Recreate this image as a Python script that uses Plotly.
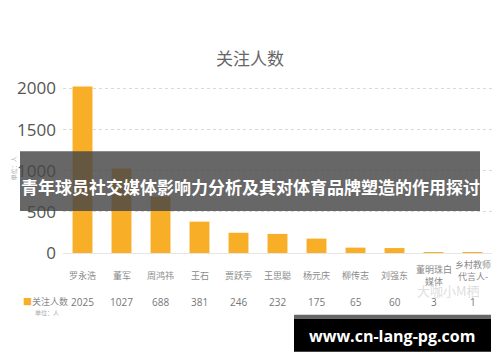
import plotly.graph_objects as go

categories = ["罗永浩", "董军", "周鸿祎", "王石", "贾跃亭", "王思聪", "杨元庆", "柳传志", "刘强东", "董明珠白<br>媒体", "乡村教师<br>代言人-<br> "]
values = [2025, 1027, 688, 381, 246, 232, 175, 65, 60, 3, 1]
y_ticks = [0, 500, 1000, 1500, 2000]
series_name = "关注人数"
unit_text = "单位：人"
chart_title = "关注人数"
overlay_title = "青年球员社交媒体影响力分析及其对体育品牌塑造的作用探讨"
site_text = "www.cn-lang-pg.com"

# page body has an 8px default margin: figure is placed at (8, 8)
OFF = 8
W, H = 500 - OFF, 362 - OFF
L, R, T, B = 63 - OFF, 8, 71.5 - OFF, 109
PW, PH = W - L - R, H - T - B
BAR = "#F9AE27"
GRAY = "#6a6a6a"

fig = go.Figure()
fig.add_trace(go.Bar(x=list(range(len(categories))), y=values, marker_color=BAR,
                     marker_line_width=0, width=0.51, showlegend=False, hoverinfo="skip"))

fig.update_layout(
    width=W, height=H,
    margin=dict(l=L, r=R, t=T, b=B),
    paper_bgcolor="white", plot_bgcolor="white",
    font=dict(family="Noto Sans CJK SC, Noto Sans, sans-serif", color=GRAY),
    xaxis=dict(range=[-0.5, len(categories) - 0.5], showticklabels=False, showgrid=False,
               zeroline=False, showline=False, ticks=""),
    yaxis=dict(range=[0, 2200], tickvals=y_ticks, ticktext=[str(v) for v in y_ticks],
               showgrid=True, gridcolor="#d9d9d9", griddash="dot", gridwidth=1,
               zeroline=True, zerolinecolor="#e6e6e6", zerolinewidth=1,
               tickfont=dict(size=17, color="#555555", family="Open Sans, Noto Sans, sans-serif"),
               ticklabelstandoff=6),
)

def px_(pix):  # reference page pixel -> paper x
    return (pix - OFF - L) / PW

def py(pix):  # reference page pixel -> paper y
    return (H - B - (pix - OFF)) / PH

ann = []
ann.append(dict(x=px_(250), y=py(57), xref="paper", yref="paper", text=chart_title, showarrow=False,
                font=dict(size=17, color="#666666"), xanchor="center", yanchor="middle"))
for i, (c, v) in enumerate(zip(categories, values)):
    ann.append(dict(x=i, y=py(276), xref="x", yref="paper", text=c, showarrow=False,
                    font=dict(size=9, color="#8a8a8a"), xanchor="center", yanchor="middle"))
    ann.append(dict(x=i, y=py(302), xref="x", yref="paper", text=str(v), showarrow=False,
                    font=dict(size=10, color="#777777", family="Open Sans, sans-serif"),
                    xanchor="center", yanchor="middle"))
ann.append(dict(x=px_(21), y=py(302), xref="paper", yref="paper",
                text="<span style='color:%s'>■</span>%s" % (BAR, series_name), showarrow=False,
                font=dict(size=9, color="#8a8a8a"), xanchor="left", yanchor="middle"))
ann.append(dict(x=px_(33), y=py(313), xref="paper", yref="paper", text=unit_text, showarrow=False,
                font=dict(size=6, color="#aaaaaa"), xanchor="left", yanchor="middle"))
ann.append(dict(x=px_(13), y=py(168), xref="paper", yref="paper", text=unit_text, showarrow=False,
                textangle=-90, font=dict(size=6, color="#aaaaaa"), xanchor="center", yanchor="middle"))
ann.append(dict(x=px_(448), y=py(291), xref="paper", yref="paper", text="大咖小M栖", showarrow=False,
                font=dict(size=13, color="rgba(200,200,200,0.6)"), xanchor="center", yanchor="middle"))
ann.append(dict(x=px_(250), y=py(186), xref="paper", yref="paper", text="<b>%s</b>" % overlay_title,
                showarrow=False, font=dict(size=17, color="white"), xanchor="center", yanchor="middle"))
ann.append(dict(x=px_(392), y=py(336), xref="paper", yref="paper", text="<b>%s</b>" % site_text,
                showarrow=False, font=dict(size=16, color="white", family="Open Sans, DejaVu Sans, sans-serif"),
                xanchor="center", yanchor="middle"))
fig.update_layout(annotations=ann)

shapes = [
    dict(type="rect", xref="paper", yref="paper", x0=px_(20), x1=px_(480), y0=py(211), y1=py(151),
         fillcolor="rgba(70,70,70,0.82)", line_width=0, layer="above"),
    dict(type="rect", xref="paper", yref="paper", x0=px_(294), x1=px_(491), y0=py(319), y1=py(315),
         fillcolor="#666666", line_width=0, layer="above"),
    dict(type="rect", xref="paper", yref="paper", x0=px_(294), x1=px_(491), y0=py(352), y1=py(319),
         fillcolor="black", line_width=0, layer="above"),
]
fig.update_layout(shapes=shapes)

fig.write_html("out.html")
